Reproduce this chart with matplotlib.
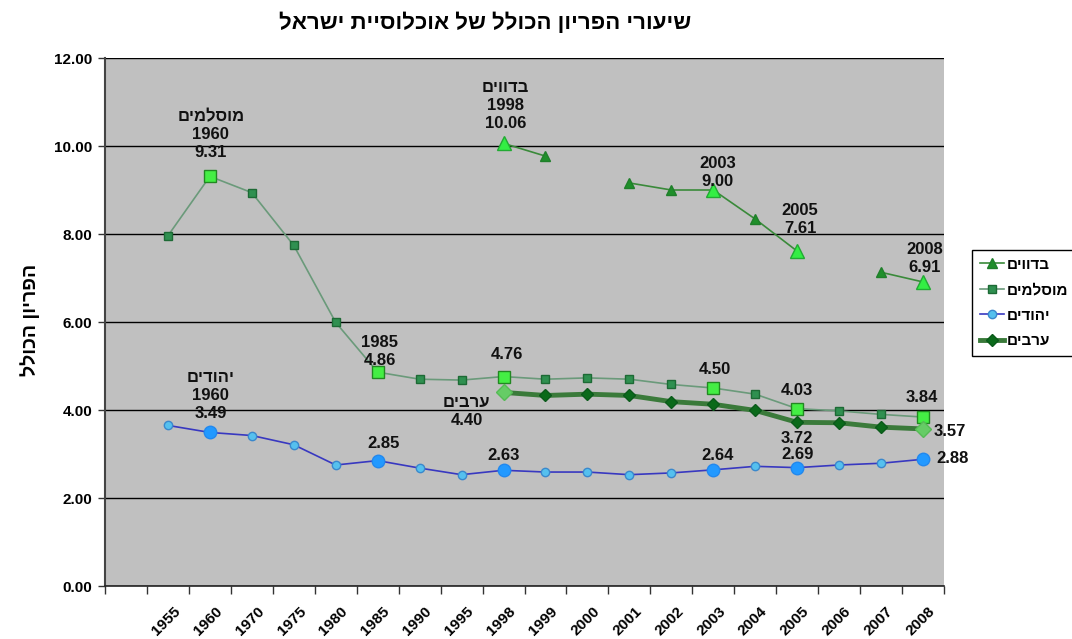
import numpy as np
import matplotlib
matplotlib.use("Agg")
import matplotlib.pyplot as plt
import matplotlib.transforms as mtransforms
from matplotlib.ticker import FixedLocator, FormatStrFormatter

plt.rcParams['font.family'] = ['Liberation Sans', 'DejaVu Sans']
plt.rcParams['font.weight'] = 'bold'

nan = np.nan
years = ['1955', '1960', '1970', '1975', '1980', '1985', '1990', '1995', '1998', '1999',
         '2000', '2001', '2002', '2003', '2004', '2005', '2006', '2007', '2008']

bedouins = [nan, nan, nan, nan, nan, nan, nan, nan, 10.06, 9.77,
            nan, 9.16, 9.00, 9.00, 8.34, 7.61, nan, 7.13, 6.91]
muslims = [7.96, 9.31, 8.94, 7.74, 5.99, 4.86, 4.70, 4.68, 4.76, 4.70,
           4.73, 4.70, 4.58, 4.50, 4.36, 4.03, 3.98, 3.90, 3.84]
jews = [3.65, 3.49, 3.42, 3.21, 2.75, 2.85, 2.68, 2.53, 2.63, 2.59,
        2.59, 2.53, 2.57, 2.64, 2.72, 2.69, 2.75, 2.79, 2.88]
arabs = [nan, nan, nan, nan, nan, nan, nan, nan, 4.40, 4.33,
         4.36, 4.33, 4.19, 4.13, 3.99, 3.72, 3.71, 3.61, 3.57]

series_names = ['בדווים', 'מוסלמים', 'יהודים', 'ערבים']
title = 'שיעורי הפריון הכולל של אוכלוסיית ישראל'
ylabel = 'הפריון הכולל'

hl_bedouins = ['1998', '2003', '2005', '2008']
hl_muslims = ['1960', '1985', '1998', '2003', '2005', '2008']
hl_jews = ['1960', '1985', '1998', '2003', '2005', '2008']
hl_arabs = ['1998', '2008']


def heb(s):
    # matplotlib has no bidi: put right-to-left text in visual order
    return s[::-1]


fig = plt.figure(figsize=(10.72, 6.39), dpi=100)
ax = fig.add_axes([105 / 1072, 1 - 586 / 639, (944 - 105) / 1072, (586 - 58) / 639])
ax.set_facecolor('#c0c0c0')

x = np.arange(len(years)) + 1
xi = {y: i for i, y in enumerate(years)}


def hl(sel, vals):
    idx = [xi[s] for s in sel]
    return x[idx], np.array(vals)[idx]


# Bedouins
ax.plot(x, bedouins, color='#3a8a3a', lw=1.2, marker='^', ms=7,
        mfc='#1f8f2a', mec='#1f7f2a', label=heb(series_names[0]), zorder=4)
hx, hy = hl(hl_bedouins, bedouins)
ax.plot(hx, hy, ls='none', marker='^', ms=10, mfc='#33ee44', mec='#22aa33', zorder=5)

# Muslims
ax.plot(x, muslims, color='#6a9a7a', lw=1.2, marker='s', ms=6,
        mfc='#2f9050', mec='#1d6a35', label=heb(series_names[1]), zorder=4)
hx, hy = hl(hl_muslims, muslims)
ax.plot(hx, hy, ls='none', marker='s', ms=9, mfc='#44ee44', mec='#228822', zorder=5)

# Jews
ax.plot(x, jews, color='#3838c0', lw=1.2, marker='o', ms=6,
        mfc='#55c0ee', mec='#3a88cc', label=heb(series_names[2]), zorder=4)
hx, hy = hl(hl_jews, jews)
ax.plot(hx, hy, ls='none', marker='o', ms=9, mfc='#2299ff', mec='#2288ee', zorder=5)

# Arabs
ax.plot(x, arabs, color='#3a7a3a', lw=3.5, marker='D', ms=6,
        mfc='#0a6a1a', mec='#0a5a1a', label=heb(series_names[3]), zorder=4)
hx, hy = hl(hl_arabs, arabs)
ax.plot(hx, hy, ls='none', marker='D', ms=8, mfc='#66cc66', mec='#55bb55', zorder=5)

# annotations (offsets given in screen pixels, y downward)
tk = dict(ha='center', va='center', fontsize=12, fontweight='bold', color='#111111',
          textcoords='offset points', zorder=6, linespacing=1.25)


def ann(text, year, vals, dx, dy):
    ax.annotate(text, (x[xi[year]], vals[xi[year]]), xytext=(dx * 0.72, -dy * 0.72), **tk)


ann(heb('מוסלמים') + '\n1960\n9.31', '1960', muslims, 1, -42)
ann(heb('בדווים') + '\n1998\n10.06', '1998', bedouins, 2, -38)
ann('2003\n9.00', '2003', bedouins, 4, -18)
ann('2005\n7.61', '2005', bedouins, 3, -32)
ann('2008\n6.91', '2008', bedouins, 2, -23)
ann('1985\n4.86', '1985', muslims, 2, -21)
ann('4.76', '1998', muslims, 3, -22)
ann('4.50', '2003', muslims, 2, -18)
ann('4.03', '2005', muslims, 0, -18)
ann('3.84', '2008', muslims, -1, -20)
ann(heb('יהודים') + '\n1960\n3.49', '1960', jews, 1, -37)
ann(heb('ערבים') + '\n4.40', '1998', arabs, -37, 19)
ann('3.72', '2005', arabs, 0, 16)
ann('3.57', '2008', arabs, 27, 3)
ann('2.85', '1985', jews, 6, -17)
ann('2.63', '1998', jews, 0, -15)
ann('2.64', '2003', jews, 4, -14)
ann('2.69', '2005', jews, 0, -13)
ann('2.88', '2008', jews, 30, -1)

# axes
ax.set_xlim(-0.5, len(years) + 0.5)
ax.set_ylim(0, 12)
ax.yaxis.set_major_locator(FixedLocator(np.arange(0, 12.01, 2)))
ax.yaxis.set_major_formatter(FormatStrFormatter('%.2f'))
ax.grid(axis='y', color='black', lw=1)
ax.set_axisbelow(True)
ax.set_xticks(x)
ax.set_xticklabels(years, rotation=45, ha='right', va='top', rotation_mode='anchor',
                   fontsize=11, fontweight='bold')
ax.tick_params(axis='x', which='major', length=0, pad=13)
shift = mtransforms.ScaledTranslation(5 / 100, 0, fig.dpi_scale_trans)
for lab in ax.get_xticklabels():
    lab.set_transform(lab.get_transform() + shift)
ax.set_xticks(np.arange(-0.5, len(years) + 1, 1), minor=True)
ax.tick_params(axis='x', which='minor', length=6, width=1, color='#333333', direction='out')
ax.tick_params(axis='y', length=5, width=1, color='#333333', labelsize=11, pad=4)
for t in ax.get_yticklabels():
    t.set_fontweight('bold')
for s in ['top', 'right']:
    ax.spines[s].set_visible(False)
ax.spines['left'].set_color('#444444')
ax.spines['left'].set_linewidth(1.5)
ax.spines['bottom'].set_color('#222222')
ax.spines['bottom'].set_linewidth(1.2)

fig.text(485 / 1072, 1 - 23 / 639, heb(title), ha='center', va='center',
         fontsize=16, fontweight='bold')
fig.text(30 / 1072, 1 - 320 / 639, heb(ylabel), ha='center', va='center',
         rotation=90, fontsize=14, fontweight='bold')

leg = ax.legend(loc='upper left', bbox_to_anchor=(972 / 1072, 1 - 250 / 639),
                bbox_transform=fig.transFigure, frameon=True, fancybox=False,
                edgecolor='black', facecolor='white', framealpha=1,
                prop={'size': 11, 'weight': 'bold'}, handlelength=1.6,
                handletextpad=0.2, labelspacing=0.75, borderpad=0.5,
                borderaxespad=0)
leg.get_frame().set_linewidth(1)

fig.savefig('out.png', dpi=100, facecolor='white')
